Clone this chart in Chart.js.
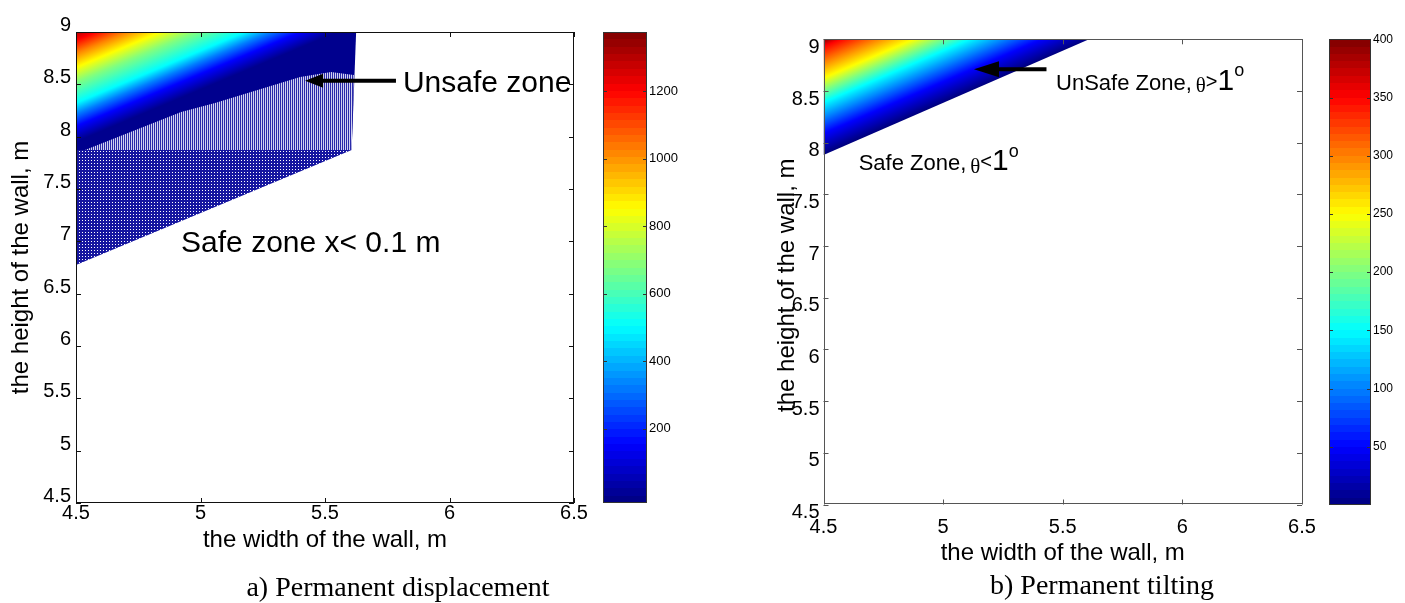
<!DOCTYPE html>
<html>
<head>
<meta charset="utf-8">
<title>Permanent displacement and tilting</title>
<script src="https://cdn.jsdelivr.net/npm/chart.js@4.4.1/dist/chart.umd.min.js"></script>
<style>
  body { margin: 0; background: #fff; width: 1405px; height: 603px; overflow: hidden; position: relative; }
  canvas { position: absolute; top: 0; display: block; }
  .caption { position: absolute; font-family: "Liberation Serif", "Times New Roman", serif; font-size: 28px; line-height: 28px;
             color: #000; white-space: nowrap; transform: translate(-50%, -50%); }
</style>
</head>
<body>
<canvas id="dispChart" width="600" height="603" style="left:0"></canvas>
<canvas id="dispBar" width="110" height="603" style="left:590px"></canvas>
<canvas id="tiltChart" width="620" height="603" style="left:700px"></canvas>
<canvas id="tiltBar" width="85" height="603" style="left:1320px"></canvas>
<div class="caption" style="left:398px; top:587px">a) Permanent displacement</div>
<div class="caption" style="left:1102px; top:585px">b) Permanent tilting</div>

<script>
// axes shared by both panels
const widthRange = [4.5, 6.5];
const heightRange = [4.5, 9];
const axisStep = 0.5;

// a) permanent displacement (m)
const dispColoredX = [4.5, 5.625, 5.607, 4.5];
const dispColoredY = [9, 9, 7.873, 7.873];
const dispMoireX = [4.536, 4.922, 5.058, 5.40, 5.524, 5.616, 5.607];
const dispMoireY = [7.873, 8.236, 8.322, 8.570, 8.618, 8.589, 7.873];
const dispHatchX = [4.5, 5.607, 4.5];
const dispHatchY = [7.873, 7.873, 6.774];
// value across the diagonal bands, s = distance from the top left corner
const dispFieldS = [0.00, 0.08, 0.20, 0.34, 0.48, 0.68, 0.78, 0.90, 1.05];
const dispFieldValue = [1305, 1200, 1025, 850, 680, 500, 330, 155, 0];
const dispBarRange = [-20, 1375];
const dispBarTicks = [200, 400, 600, 800, 1000, 1200];

// b) permanent tilting
const tiltColoredX = [4.5, 5.61, 4.5];
const tiltColoredY = [9, 9, 7.88];
const tiltFieldS = [0.00, 0.07, 0.22, 0.375, 0.49, 0.61, 0.76, 0.91, 1.11];
const tiltFieldValue = [400, 350, 300, 250, 200, 150, 100, 50, 0];
const tiltBarRange = [0, 400];
const tiltBarTicks = [50, 100, 150, 200, 250, 300, 350, 400];

Chart.defaults.font.family = '"Liberation Sans", Arial, sans-serif';
Chart.defaults.color = '#000';

const sans = '"Liberation Sans", Arial, sans-serif';
const serif = '"Liberation Serif", "Times New Roman", serif';

function toPoints(xs, ys) {
    return xs.map((x, i) => ({ x: x, y: ys[i] }));
}

function interp(xs, ys, v) {
    if (v <= xs[0]) return ys[0];
    for (let i = 1; i < xs.length; i++) {
        if (v <= xs[i]) {
            const t = (v - xs[i - 1]) / (xs[i] - xs[i - 1]);
            return ys[i - 1] + t * (ys[i] - ys[i - 1]);
        }
    }
    return ys[ys.length - 1];
}

// matlab jet colormap
function jet(f) {
    f = Math.min(1, Math.max(0, f));
    const c = k => Math.round(255 * Math.min(1, Math.max(0, 1.5 - Math.abs(4 * f - k))));
    return 'rgb(' + c(3) + ',' + c(2) + ',' + c(1) + ')';
}

// bands run along data direction (1,1), so the gradient goes across them
function fieldGradient(chart, fieldS, fieldValue, range) {
    const { ctx, chartArea, scales } = chart;
    if (!chartArea) return null;
    const x = scales.x, y = scales.y;
    const x0 = x.getPixelForValue(x.min), y0 = y.getPixelForValue(y.max);
    const kx = x.getPixelForValue(x.min + 1) - x0;
    const ky = y.getPixelForValue(y.max - 1) - y0;
    const sEnd = fieldS[fieldS.length - 1];
    const d = kx * sEnd * ky / (kx * kx + ky * ky);
    const g = ctx.createLinearGradient(x0, y0, x0 + d * ky, y0 + d * kx);
    const steps = 120;
    for (let i = 0; i <= steps; i++) {
        const v = interp(fieldS, fieldValue, i / steps * sEnd);
        g.addColorStop(i / steps, jet((v - range[0]) / (range[1] - range[0])));
    }
    return g;
}

function barGradient(chart, range) {
    const { ctx, chartArea, scales } = chart;
    if (!chartArea) return null;
    const g = ctx.createLinearGradient(0, scales.y.getPixelForValue(range[0]), 0, scales.y.getPixelForValue(range[1]));
    for (let i = 0; i < 64; i++) {
        const c = jet((i + 0.5) / 64);
        g.addColorStop(i / 64, c);
        g.addColorStop((i + 1) / 64, c);
    }
    return g;
}

function makePattern(w, h, base, pixels) {
    const c = document.createElement('canvas');
    c.width = w; c.height = h;
    const pctx = c.getContext('2d');
    pctx.fillStyle = base;
    pctx.fillRect(0, 0, w, h);
    pixels.forEach(p => { pctx.fillStyle = p[2]; pctx.fillRect(p[0], p[1], 1, 1); });
    return pctx.createPattern(c, 'repeat');
}

const moirePattern = makePattern(2, 1, '#2a2aaa', [[1, 0, '#d2d2f0']]);
const hatchPattern = makePattern(3, 3, '#1616a0', [[1, 1, '#ffffff']]);

function region(points, fill, order) {
    return {
        data: points, showLine: true, fill: 'shape', backgroundColor: fill,
        borderColor: 'rgba(0,0,0,0)', borderWidth: 0, pointRadius: 0, order: order
    };
}

// box and inward tick marks, like matlab axes
function framePlugin(cfg) {
    return {
        id: 'frame',
        afterDatasetsDraw(chart) {
            const { ctx, chartArea: a } = chart;
            const len = cfg.length;
            ctx.save();
            ctx.strokeStyle = cfg.color;
            ctx.lineWidth = 1;
            ctx.beginPath();
            if (cfg.xTicks) {
                chart.scales.x.ticks.forEach(t => {
                    const px = Math.round(chart.scales.x.getPixelForValue(t.value)) + 0.5;
                    ctx.moveTo(px, a.bottom); ctx.lineTo(px, a.bottom - len);
                    ctx.moveTo(px, a.top); ctx.lineTo(px, a.top + len);
                });
            }
            chart.scales.y.ticks.forEach(t => {
                const py = Math.round(chart.scales.y.getPixelForValue(t.value)) + 0.5;
                ctx.moveTo(a.left, py); ctx.lineTo(a.left + len, py);
                ctx.moveTo(a.right, py); ctx.lineTo(a.right - len, py);
            });
            ctx.stroke();
            ctx.strokeRect(Math.round(a.left) + 0.5, Math.round(a.top) + 0.5,
                Math.round(a.right - a.left) - 1, Math.round(a.bottom - a.top) - 1);
            ctx.restore();
        }
    };
}

// zone labels and arrows, placed in data coordinates
function notesPlugin(items) {
    return {
        id: 'notes',
        afterDatasetsDraw(chart) {
            const { ctx } = chart;
            const x = chart.scales.x, y = chart.scales.y;
            ctx.save();
            ctx.fillStyle = '#000';
            ctx.strokeStyle = '#000';
            items.forEach(item => {
                if (item.type === 'arrow') {
                    const tx = x.getPixelForValue(item.tip[0]), ty = y.getPixelForValue(item.tip[1]);
                    const ex = x.getPixelForValue(item.tail), bx = tx + item.head;
                    ctx.lineWidth = item.width;
                    ctx.beginPath();
                    ctx.moveTo(bx - 2, ty); ctx.lineTo(ex, ty);
                    ctx.stroke();
                    ctx.beginPath();
                    ctx.moveTo(tx, ty);
                    ctx.lineTo(bx, ty - item.half);
                    ctx.lineTo(bx, ty + item.half);
                    ctx.closePath();
                    ctx.fill();
                } else {
                    let cx = x.getPixelForValue(item.at[0]);
                    const by = y.getPixelForValue(item.at[1]);
                    ctx.textBaseline = 'alphabetic';
                    ctx.textAlign = 'left';
                    item.parts.forEach(p => {
                        cx += p.gap || 0;
                        ctx.font = p.size + 'px ' + (p.family || sans);
                        ctx.fillText(p.text, cx, by + (p.dy || 0));
                        cx += ctx.measureText(p.text).width;
                    });
                }
            });
            ctx.restore();
        }
    };
}

const tickText = v => String(Math.round(v * 10) / 10);

function plotOptions(cfg) {
    return {
        responsive: false, animation: false, events: [],
        layout: { padding: cfg.padding },
        plugins: { legend: { display: false }, tooltip: { enabled: false } },
        scales: {
            x: {
                type: 'linear', min: widthRange[0], max: widthRange[1],
                grid: { display: false, drawTicks: false }, border: { display: false },
                ticks: { stepSize: axisStep, autoSkip: false, maxRotation: 0, padding: cfg.xTickPad,
                         font: { size: 20, lineHeight: cfg.xTickLine }, color: '#000', callback: tickText },
                title: { display: true, text: 'the width of the wall, m', font: { size: 24 }, color: '#000', padding: { top: 0, bottom: cfg.xTitlePad } },
                afterFit: s => { s.height = cfg.xHeight; }
            },
            y: {
                type: 'linear', min: heightRange[0], max: heightRange[1],
                grid: { display: false, drawTicks: false }, border: { display: false },
                ticks: { stepSize: axisStep, autoSkip: false, padding: cfg.yTickPad, labelOffset: cfg.yLabelOffset, font: { size: 20 }, color: '#000', callback: tickText },
                title: { display: true, text: cfg.yTitle, font: { size: 24 }, color: '#000', padding: { top: cfg.yTitlePad, bottom: 0 } },
                afterFit: s => { s.width = cfg.yWidth; }
            }
        }
    };
}

function barOptions(cfg) {
    return {
        responsive: false, animation: false, events: [],
        layout: { padding: cfg.padding },
        plugins: { legend: { display: false }, tooltip: { enabled: false } },
        scales: {
            x: { display: false },
            y: {
                position: 'right', min: cfg.range[0], max: cfg.range[1],
                grid: { display: false, drawTicks: false }, border: { display: false },
                ticks: { padding: 2, font: { size: cfg.fontSize }, color: '#000', callback: v => String(v) },
                afterBuildTicks: axis => { axis.ticks = cfg.ticks.map(v => ({ value: v })); },
                afterFit: s => { s.width = cfg.width; }
            }
        }
    };
}

// a) permanent displacement
new Chart(document.getElementById('dispChart'), {
    type: 'scatter',
    data: {
        datasets: [
            region(toPoints(dispMoireX, dispMoireY), moirePattern, 0),
            region(toPoints(dispHatchX, dispHatchY), hatchPattern, 1),
            region(toPoints(dispColoredX, dispColoredY),
                c => fieldGradient(c.chart, dispFieldS, dispFieldValue, dispBarRange), 2)
        ]
    },
    options: plotOptions({
        padding: { left: 0, top: 32, right: 26, bottom: 0 },
        xHeight: 100, xTickPad: -2, xTickLine: 1.2, xTitlePad: 48.6,
        yWidth: 76, yTickPad: 5, yLabelOffset: -6.5, yTitlePad: 6.6,
        yTitle: 'the height of the wall, m'
    }),
    plugins: [
        framePlugin({ color: '#111', length: 5, xTicks: true }),
        notesPlugin([
            { type: 'arrow', tip: [5.42, 8.535], tail: 5.785, head: 18, half: 7, width: 4 },
            { type: 'text', at: [5.813, 8.43], parts: [{ text: 'Unsafe zone', size: 30 }] },
            { type: 'text', at: [4.922, 6.901], parts: [{ text: 'Safe zone x< 0.1 m', size: 30 }] }
        ])
    ]
});

new Chart(document.getElementById('dispBar'), {
    type: 'bar',
    data: {
        labels: [''],
        datasets: [{
            data: [dispBarRange], barPercentage: 1, categoryPercentage: 1, borderWidth: 0,
            backgroundColor: c => barGradient(c.chart, dispBarRange)
        }]
    },
    options: barOptions({
        padding: { left: 13, top: 32, right: 0, bottom: 100 },
        range: dispBarRange, ticks: dispBarTicks, width: 53, fontSize: 13
    }),
    plugins: [framePlugin({ color: '#333', length: 4, xTicks: false })]
});

// b) permanent tilting
new Chart(document.getElementById('tiltChart'), {
    type: 'scatter',
    data: {
        datasets: [
            region(toPoints(tiltColoredX, tiltColoredY),
                c => fieldGradient(c.chart, tiltFieldS, tiltFieldValue, tiltBarRange), 0)
        ]
    },
    options: plotOptions({
        padding: { left: 0, top: 39.3, right: 18, bottom: 0 },
        xHeight: 98.5, xTickPad: 3, xTickLine: 2, xTitlePad: 35.6,
        yWidth: 123.5, yTickPad: 4, yLabelOffset: 8, yTitlePad: 72.6,
        yTitle: 'the height of the wall, m    '
    }),
    plugins: [
        framePlugin({ color: '#555', length: 5, xTicks: true }),
        notesPlugin([
            { type: 'arrow', tip: [5.129, 8.71], tail: 5.432, head: 25, half: 8, width: 4 },
            {
                type: 'text', at: [5.472, 8.51], parts: [
                    { text: 'UnSafe Zone,', size: 22 },
                    { text: 'θ', size: 21, family: serif, dy: 2, gap: 4 },
                    { text: '>', size: 20, dy: -2 },
                    { text: '1', size: 30 },
                    { text: 'o', size: 18, dy: -14 }
                ]
            },
            {
                type: 'text', at: [4.647, 7.736], parts: [
                    { text: 'Safe Zone,', size: 22 },
                    { text: 'θ', size: 21, family: serif, dy: 3, gap: 4 },
                    { text: '<', size: 20, dy: -2 },
                    { text: '1', size: 30 },
                    { text: 'o', size: 18, dy: -13 }
                ]
            }
        ])
    ]
});

new Chart(document.getElementById('tiltBar'), {
    type: 'bar',
    data: {
        labels: [''],
        datasets: [{
            data: [tiltBarRange], barPercentage: 1, categoryPercentage: 1, borderWidth: 0,
            backgroundColor: c => barGradient(c.chart, tiltBarRange)
        }]
    },
    options: barOptions({
        padding: { left: 9, top: 39.3, right: 0, bottom: 98 },
        range: tiltBarRange, ticks: tiltBarTicks, width: 34, fontSize: 12
    }),
    plugins: [framePlugin({ color: '#333', length: 4, xTicks: false })]
});
</script>
</body>
</html>
